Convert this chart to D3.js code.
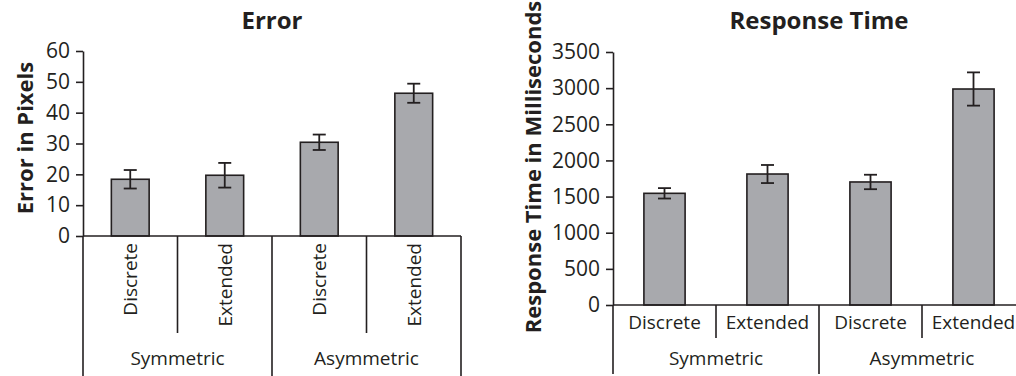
<!DOCTYPE html>
<html>
<head>
<meta charset="utf-8">
<script src="https://cdn.jsdelivr.net/npm/d3@7"></script>
<style>
  html, body { margin: 0; padding: 0; background: #ffffff; }
  svg { display: block; }
  text { font-family: "Open Sans", "DejaVu Sans", sans-serif; fill: #231f20; }
</style>
</head>
<body>
<svg id="chart" width="1016" height="376"></svg>
<script>
// ---- data ----
const categories = ["Discrete", "Extended", "Discrete", "Extended"];
const groups = ["Symmetric", "Asymmetric"];
const errorMeans = [18.4, 19.7, 30.4, 46.3];
const errorSE = [3.0, 4.0, 2.5, 3.1];
const errorTicks = [0, 10, 20, 30, 40, 50, 60];
const rtMeans = [1545, 1812, 1702, 2988];
const rtSE = [72, 125, 100, 230];
const rtTicks = [0, 500, 1000, 1500, 2000, 2500, 3000, 3500];

const svg = d3.select("#chart");
const ink = "#231f20";
const barFill = "#a8a9ad";

function panel(opts) {
  const g = svg.append("g");
  const x = d3.scaleBand().domain(d3.range(categories.length))
    .range([opts.x0, opts.x1]).paddingInner(0.6).paddingOuter(0.3);
  const y = d3.scaleLinear().domain(opts.domain).range([opts.yBottom, opts.yTop]);
  const step = x.step();
  const boundary = i => opts.x0 + i * step;

  // title
  g.append("text")
    .attr("x", (opts.x0 + opts.x1) / 2).attr("y", 29)
    .attr("text-anchor", "middle")
    .style("font-weight", "bold").style("font-size", "24px")
    .text(opts.title);

  // y axis label
  g.append("text")
    .attr("transform", `translate(${opts.labelX},${opts.labelY}) rotate(-90)`)
    .attr("text-anchor", "middle")
    .style("font-weight", "bold").style("font-size", "22px")
    .text(opts.yLabel);

  // bars
  g.selectAll("rect.bar").data(opts.means).enter().append("rect")
    .attr("class", "bar")
    .attr("x", (d, i) => x(i))
    .attr("width", x.bandwidth())
    .attr("y", d => y(d))
    .attr("height", d => y(0) - y(d))
    .attr("fill", barFill).attr("stroke", ink).attr("stroke-width", 1.6);

  // error bars
  const cap = 6.5;
  const eb = g.selectAll("g.eb").data(opts.means).enter().append("g").attr("class", "eb");
  eb.append("line")
    .attr("x1", (d, i) => x(i) + x.bandwidth() / 2)
    .attr("x2", (d, i) => x(i) + x.bandwidth() / 2)
    .attr("y1", (d, i) => y(d + opts.se[i]))
    .attr("y2", (d, i) => y(d - opts.se[i]));
  eb.append("line")
    .attr("x1", (d, i) => x(i) + x.bandwidth() / 2 - cap)
    .attr("x2", (d, i) => x(i) + x.bandwidth() / 2 + cap)
    .attr("y1", (d, i) => y(d + opts.se[i]))
    .attr("y2", (d, i) => y(d + opts.se[i]));
  eb.append("line")
    .attr("x1", (d, i) => x(i) + x.bandwidth() / 2 - cap)
    .attr("x2", (d, i) => x(i) + x.bandwidth() / 2 + cap)
    .attr("y1", (d, i) => y(d - opts.se[i]))
    .attr("y2", (d, i) => y(d - opts.se[i]));
  eb.selectAll("line").attr("stroke", ink).attr("stroke-width", 1.8);

  // y axis
  const yAxis = d3.axisLeft(y).tickValues(opts.ticks).tickFormat(d3.format("d"))
    .tickSize(7).tickSizeOuter(0).tickPadding(6);
  const ya = g.append("g").attr("transform", `translate(${opts.x0},0)`).call(yAxis);
  ya.select(".domain").attr("stroke", ink).attr("stroke-width", 1.6);
  ya.selectAll(".tick line").attr("stroke", ink).attr("stroke-width", 1.6);
  ya.selectAll(".tick text").style("font-size", "21px").attr("fill", ink)
    .style("font-family", '"Open Sans", sans-serif');

  // baseline
  g.append("line")
    .attr("x1", opts.x0).attr("x2", opts.x1)
    .attr("y1", y(0)).attr("y2", y(0))
    .attr("stroke", ink).attr("stroke-width", 1.6);

  // separators
  d3.range(categories.length + 1).forEach(i => {
    const long = i % 2 === 0;
    g.append("line")
      .attr("x1", boundary(i)).attr("x2", boundary(i))
      .attr("y1", y(0)).attr("y2", long ? opts.longEnd : opts.shortEnd)
      .attr("stroke", ink).attr("stroke-width", 1.6);
  });

  // category labels
  categories.forEach((c, i) => {
    const cx = x(i) + x.bandwidth() / 2;
    if (opts.rotated) {
      g.append("text")
        .attr("transform", `translate(${cx + 7},${y(0) + 7}) rotate(-90)`)
        .attr("text-anchor", "end")
        .style("font-size", "19px")
        .text(c);
    } else {
      g.append("text")
        .attr("x", cx).attr("y", opts.catY)
        .attr("text-anchor", "middle")
        .style("font-size", "19px")
        .text(c);
    }
  });

  // group labels
  groups.forEach((gr, j) => {
    g.append("text")
      .attr("x", (boundary(j * 2) + boundary(j * 2 + 2)) / 2)
      .attr("y", opts.groupY)
      .attr("text-anchor", "middle")
      .style("font-size", "19px")
      .text(gr);
  });
}

panel({
  title: "Error", yLabel: "Error in Pixels",
  x0: 83, x1: 461, yBottom: 236, yTop: 51, domain: [0, 60],
  means: errorMeans, se: errorSE, ticks: errorTicks,
  labelX: 33, labelY: 138, rotated: true,
  longEnd: 376, shortEnd: 333, groupY: 365
});

panel({
  title: "Response Time", yLabel: "Response Time in Milliseconds",
  x0: 613, x1: 1025, yBottom: 305, yTop: 52, domain: [0, 3500],
  means: rtMeans, se: rtSE, ticks: rtTicks,
  labelX: 541, labelY: 167, rotated: false,
  catY: 329, longEnd: 374, shortEnd: 338, groupY: 365
});
</script>
</body>
</html>
